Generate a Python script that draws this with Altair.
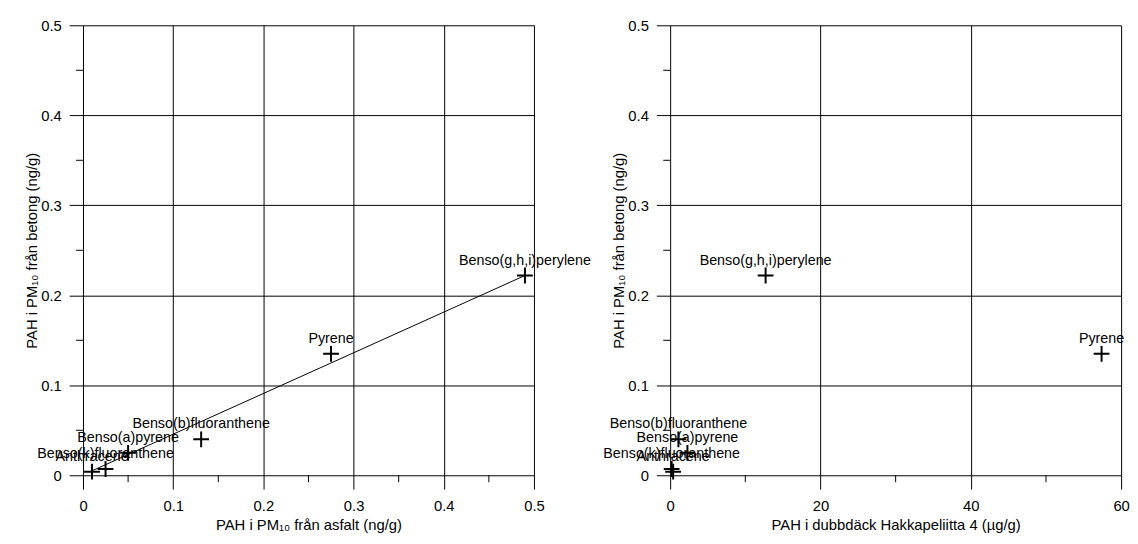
import altair as alt
import pandas as pd

# ---- data ----
compounds = ["Benso(g,h,i)perylene", "Pyrene", "Benso(b)fluoranthene",
             "Benso(a)pyrene", "Anthracene", "Benso(k)fluoranthene"]
betong = [0.222, 0.135, 0.040, 0.025, 0.004, 0.007]      # PAH i PM10 från betong (ng/g)
asfalt = [0.490, 0.275, 0.131, 0.050, 0.010, 0.025]      # PAH i PM10 från asfalt (ng/g)
dubbdack = [12.7, 57.4, 1.1, 2.3, 0.4, 0.2]              # PAH i dubbdäck Hakkapeliitta 4 (µg/g)

fit_x = [0.010, 0.490]
fit_y = [0.005, 0.222]

x_ticks_left = [0, 0.1, 0.2, 0.3, 0.4, 0.5]
x_minor_left = [0.05, 0.15, 0.25, 0.35, 0.45]
x_ticks_right = [0, 20, 40, 60]
x_minor_right = [10, 30, 50]
y_ticks = [0, 0.1, 0.2, 0.3, 0.4, 0.5]
y_minor = [0.05, 0.15, 0.25, 0.35, 0.45]

y_title = "PAH i PM₁₀ från betong (ng/g)"
x_title_left = "PAH i PM₁₀ från asfalt (ng/g)"
x_title_right = "PAH i dubbdäck Hakkapeliitta 4 (µg/g)"

W, H = 457, 456
FONT = "Liberation Sans"
CROSS = "M-1,0H1M0,-1V1"

axis_common = dict(
    grid=True, gridColor="black", gridWidth=1, gridOpacity=1,
    domain=False, ticks=True, tickSize=14, tickColor="black", tickWidth=1,
    labelFont=FONT, labelFontSize=15, labelColor="black",
    titleFont=FONT, titleFontSize=15, titleFontWeight="normal", titleColor="black",
    labelFlush=False, labelOverlap=False,
)


def panel(xvals, xtitle, xdomain, xticks, xminor, xfmt, fit=None):
    pts = pd.DataFrame({"x": xvals, "y": betong, "name": compounds})
    xenc = alt.X("x:Q",
                 scale=alt.Scale(domain=xdomain, nice=False, zero=False),
                 axis=alt.Axis(title=xtitle, values=xticks, format=xfmt,
                               labelPadding=10, titlePadding=4, **axis_common))
    yenc = alt.Y("y:Q",
                 scale=alt.Scale(domain=[0, 0.5], nice=False, zero=False),
                 axis=alt.Axis(title=y_title, values=y_ticks, format="~g",
                               labelPadding=8, titlePadding=1, **axis_common))

    mx = alt.Chart(pd.DataFrame({"x": xminor})).mark_rule(
        color="black", strokeWidth=1).encode(
        x=xenc, y=alt.value(H), y2=alt.value(H + 7))
    my = alt.Chart(pd.DataFrame({"y": y_minor})).mark_rule(
        color="black", strokeWidth=1).encode(
        y=yenc, x=alt.value(0), x2=alt.value(-7))
    layers = [mx, my]
    if fit is not None:
        line = alt.Chart(pd.DataFrame({"x": fit[0], "y": fit[1]})).mark_line(
            color="black", strokeWidth=1).encode(x=xenc, y=yenc)
        layers.append(line)
    points = alt.Chart(pts).mark_point(
        shape=CROSS, size=256, strokeWidth=2, color="black",
        filled=False, opacity=1).encode(x=xenc, y=yenc)
    labels = alt.Chart(pts).mark_text(
        dy=-15, fontSize=14.5, font=FONT, color="black").encode(
        x=xenc, y=yenc, text="name:N")
    layers += [points, labels]
    return alt.layer(*layers).properties(width=W, height=H)


left = panel(asfalt, x_title_left, [0, 0.5], x_ticks_left, x_minor_left, "~g",
             fit=(fit_x, fit_y))
right = panel(dubbdack, x_title_right, [0, 60], x_ticks_right, x_minor_right, "d")

chart = alt.hconcat(left, right, spacing=138, bounds="flush").properties(
    padding={"left": 17, "top": 7, "right": 0, "bottom": 0}
).configure_view(strokeOpacity=0)

chart.save("out.html", embed_options={"renderer": "svg", "actions": False})
